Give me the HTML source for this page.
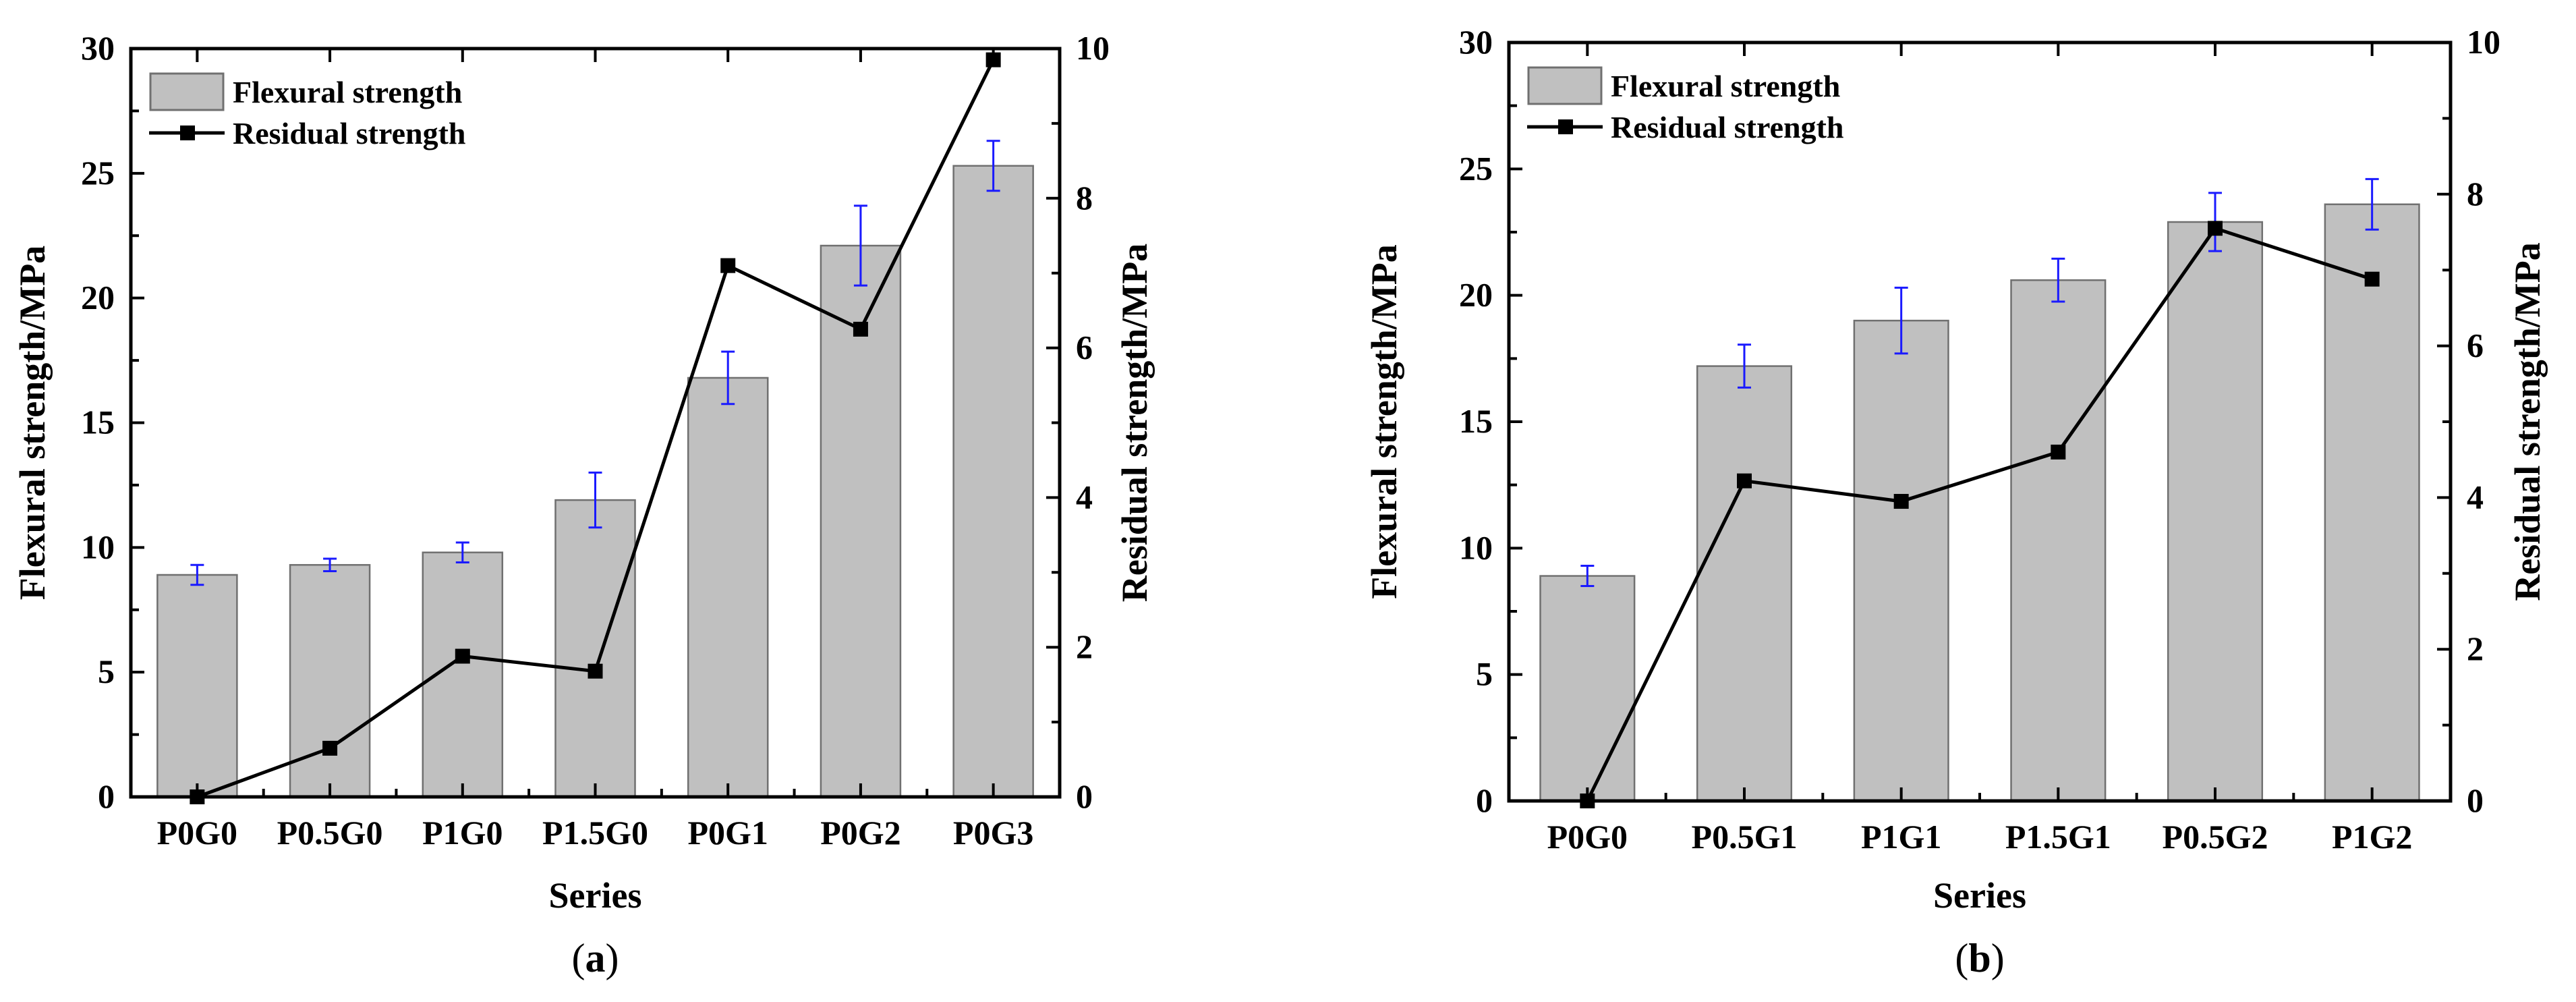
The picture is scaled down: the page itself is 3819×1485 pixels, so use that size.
<!DOCTYPE html>
<html><head><meta charset="utf-8"><style>
html,body{margin:0;padding:0;background:#fff;}
svg text{font-family:"Liberation Serif",serif;font-weight:bold;fill:#000;}
</style></head><body>
<svg id="svg" width="3819" height="1480" viewBox="0 0 3819 1480" xmlns="http://www.w3.org/2000/svg"></svg>
<script>
const catsA=["P0G0","P0.5G0","P1G0","P1.5G0","P0G1","P0G2","P0G3"];
const flexA=[8.9,9.3,9.8,11.9,16.8,22.1,25.3];
const errA=[0.4,0.25,0.4,1.1,1.05,1.6,1.0];
const resA=[0,0.65,1.88,1.68,7.1,6.25,9.85];
const catsB=["P0G0","P0.5G1","P1G1","P1.5G1","P0.5G2","P1G2"];
const flexB=[8.9,17.2,19.0,20.6,22.9,23.6];
const errB=[0.4,0.85,1.3,0.85,1.15,1.0];
const resB=[0,4.22,3.95,4.6,7.55,6.88];
const leftTicks=[0,5,10,15,20,25,30];
const rightTicks=[0,2,4,6,8,10];

const svg=document.getElementById('svg');
const NS="http://www.w3.org/2000/svg";
function mk(tag,attrs,parent){const e=document.createElementNS(NS,tag);for(const k in attrs)e.setAttribute(k,attrs[k]);(parent||svg).appendChild(e);return e;}

function chart(name,L,T,R,B,cats,flex,err,res,label,lx,rx){
  const g=mk('g',{});
  
  
  const W=R-L,H=B-T,band=W/cats.length,bw=band*0.6;
  const yL=v=>B-v/30*H, yR=v=>B-v/10*H, xC=i=>L+band*(i+0.5);
  cats.forEach((c,i)=>{
    const r=mk('rect',{x:xC(i)-bw/2,y:yL(flex[i]),width:bw,height:B-yL(flex[i]),fill:'#c0c0c0',stroke:'#707070','stroke-width':2.5},g);
    
    
  });
  cats.forEach((c,i)=>{
    const x=xC(i),y1=yL(flex[i]+err[i]),y2=yL(flex[i]-err[i]);
    const e=mk('path',{d:`M${x},${y1}V${y2}M${x-10},${y1}H${x+10}M${x-10},${y2}H${x+10}`,stroke:'#1a1aff','stroke-width':3,fill:'none'},g);
    
    
  });
  const f=mk('rect',{x:L,y:T,width:W,height:H,fill:'none',stroke:'#000','stroke-width':5},g);
  
  
  let d='';
  cats.forEach((c,i)=>{const x=xC(i);d+=`M${x},${B}v-20M${x},${T}v20`;});
  for(let i=1;i<cats.length;i++){const x=L+band*i;d+=`M${x},${B}v-12`;}
  leftTicks.forEach(v=>{d+=`M${L},${yL(v)}h20`;});
  for(let v=2.5;v<30;v+=5)d+=`M${L},${yL(v)}h12`;
  rightTicks.forEach(v=>{d+=`M${R},${yR(v)}h-20`;});
  for(let v=1;v<10;v+=2)d+=`M${R},${yR(v)}h-12`;
  const tk=mk('path',{d:d,stroke:'#000','stroke-width':4,fill:'none'},g);
  
  
  leftTicks.forEach(v=>{const t=mk('text',{x:L-24,y:yL(v)+16,'text-anchor':'end','font-size':50},g);t.textContent=v;
    });
  rightTicks.forEach(v=>{const t=mk('text',{x:R+24,y:yR(v)+16,'font-size':50},g);t.textContent=v;
    });
  cats.forEach((c,i)=>{const t=mk('text',{x:xC(i),y:B+70,'text-anchor':'middle','font-size':50},g);t.textContent=c;
    });
  const pts=cats.map((c,i)=>xC(i)+','+yR(res[i])).join(' ');
  const pl=mk('polyline',{points:pts,fill:'none',stroke:'#000','stroke-width':5},g);
  
  
  cats.forEach((c,i)=>{const m=mk('rect',{x:xC(i)-11,y:yR(res[i])-11,width:22,height:22,fill:'#000'},g);
    });
  const lg=mk('g',{},g);
  
  
  mk('rect',{x:L+29,y:T+37,width:108,height:54,fill:'#c0c0c0',stroke:'#707070','stroke-width':3},lg);
  let t=mk('text',{x:L+151,y:T+80,'font-size':46},lg);t.textContent='Flexural strength';
  mk('path',{d:`M${L+27},${T+125}H${L+139}`,stroke:'#000','stroke-width':5},lg);
  mk('rect',{x:L+73,y:T+114,width:22,height:22,fill:'#000'},lg);
  t=mk('text',{x:L+151,y:T+141,'font-size':46},lg);t.textContent='Residual strength';
  t=mk('text',{x:(L+R)/2,y:1345,'text-anchor':'middle','font-size':54},g);t.textContent='Series';
  
  t=mk('text',{x:0,y:0,'text-anchor':'middle','font-size':54,transform:`translate(${lx},${(T+B)/2}) rotate(-90)`},g);t.textContent='Flexural strength/MPa';
  
  t=mk('text',{x:0,y:0,'text-anchor':'middle','font-size':54,transform:`translate(${rx},${(T+B)/2}) rotate(-90)`},g);t.textContent='Residual strength/MPa';
  
  t=mk('text',{x:(L+R)/2,y:1440,'text-anchor':'middle','font-size':60},g);
  t.style.fontWeight='normal';
  t.innerHTML='(<tspan style="font-weight:bold">'+label+'</tspan>)';
  
}
chart('chart-a',194,72,1571,1181,catsA,flexA,errA,resA,'a',66,1700);
chart('chart-b',2237,63,3633,1187,catsB,flexB,errB,resB,'b',2070,3765);
</script>
</body></html>
